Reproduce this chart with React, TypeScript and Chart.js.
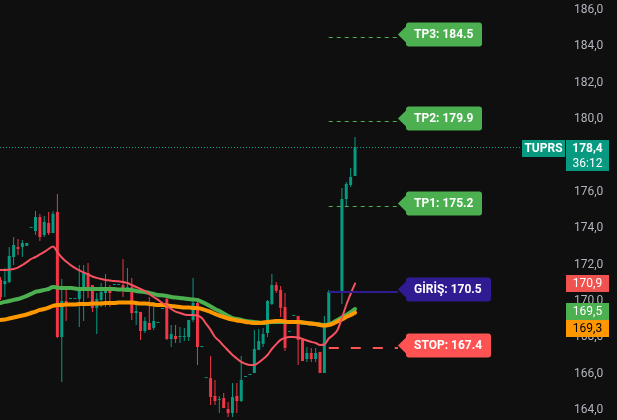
import React, { useEffect, useRef } from 'react';
import { Chart, registerables } from 'chart.js';

Chart.register(...registerables);

const SYMBOL = 'TUPRS';
const COUNTDOWN = '36:12';

const OPEN = [
  171.10, 170.87, 170.98, 172.36, 172.91, 172.91, 172.97, 173.96, 173.79, 174.56,
  173.57, 174.23, 173.68, 174.84, 167.96, 169.94, 170.05, 170.05, 170.05, 170.66,
  171.48, 170.82, 169.56, 170.00, 170.38, 170.55, 170.82, 170.82, 170.82, 170.55,
  170.71, 169.28, 169.34, 168.29, 168.73, 168.46, 168.73, 169.50, 170.05, 167.85,
  168.02, 167.96, 167.96, 167.96, 168.90, 169.83, 167.41, 165.70, 165.70, 164.72,
  164.50, 164.60, 164.00, 163.78, 164.72, 164.44, 165.76, 165.87, 165.98, 167.25,
  167.58, 168.18, 169.78, 170.82, 170.55, 169.61, 168.24, 169.12, 169.12, 167.80,
  166.75, 167.08, 166.75, 167.14, 165.98, 168.62, 170.44, 170.44, 170.44, 175.55,
  176.32, 176.82,
];
const HIGH = [
  171.26, 171.75, 172.91, 173.46, 173.35, 173.30, 173.13, 173.96, 174.89, 174.73,
  174.62, 174.84, 174.89, 175.83, 171.15, 170.71, 170.05, 170.05, 171.92, 171.92,
  172.03, 170.82, 170.38, 170.93, 171.43, 170.82, 170.82, 170.82, 172.25, 171.75,
  171.21, 169.89, 169.34, 169.06, 170.16, 169.89, 168.73, 169.50, 170.16, 168.62,
  168.62, 168.51, 168.46, 168.90, 171.21, 170.11, 167.41, 165.70, 166.92, 165.60,
  164.72, 164.88, 164.39, 165.43, 165.43, 166.92, 165.76, 165.87, 168.35, 168.40,
  168.46, 170.00, 171.43, 170.98, 170.77, 170.38, 168.24, 169.12, 169.12, 167.80,
  167.41, 167.36, 167.36, 167.14, 169.12, 170.55, 170.44, 170.44, 176.16, 176.49,
  177.26, 178.96,
];
const LOW = [
  170.00, 170.16, 170.93, 171.92, 172.47, 172.36, 172.97, 173.96, 173.57, 173.24,
  173.46, 173.57, 173.68, 167.90, 165.49, 168.84, 170.05, 170.05, 168.51, 168.84,
  170.11, 169.34, 168.13, 169.61, 169.61, 169.61, 170.82, 170.82, 170.16, 170.44,
  168.90, 168.62, 167.79, 168.18, 168.35, 168.35, 168.73, 169.50, 167.79, 167.41,
  167.63, 167.63, 167.74, 167.74, 168.79, 166.42, 167.41, 165.70, 164.22, 164.22,
  163.78, 164.05, 163.56, 163.56, 163.78, 164.39, 165.76, 165.87, 165.98, 167.25,
  167.41, 167.96, 169.72, 170.38, 169.06, 167.19, 168.24, 169.12, 166.42, 166.64,
  166.58, 166.58, 166.58, 165.98, 165.98, 168.62, 170.44, 170.44, 169.78, 175.17,
  176.21, 176.82,
];
const CLOSE = [
  170.16, 171.04, 172.42, 173.02, 172.80, 173.13, 173.13, 173.96, 174.56, 173.46,
  174.29, 173.68, 174.73, 167.96, 169.94, 169.78, 170.05, 170.05, 170.71, 171.54,
  170.71, 169.56, 170.05, 170.44, 170.66, 170.38, 170.82, 170.82, 170.55, 170.71,
  169.28, 169.39, 168.29, 168.84, 168.35, 168.84, 168.73, 169.50, 167.85, 168.13,
  167.85, 167.96, 167.96, 168.90, 169.83, 167.41, 167.41, 165.70, 164.66, 164.44,
  164.50, 164.05, 163.78, 164.66, 164.44, 165.60, 165.76, 165.87, 167.30, 167.74,
  168.13, 169.94, 170.82, 170.50, 169.56, 167.36, 168.24, 169.12, 167.80, 166.64,
  167.08, 166.75, 167.08, 165.98, 168.62, 170.44, 170.44, 170.44, 175.55, 176.38,
  176.76, 178.40,
];

// red (fast) moving average
const MA_FAST = [
  171.65, 171.65, 171.67, 171.70, 171.78, 171.92, 172.08, 172.25, 172.36, 172.50,
  172.64, 172.80, 172.94, 172.64, 172.33, 172.11, 171.92, 171.76, 171.62, 171.51,
  171.40, 171.29, 171.21, 171.15, 171.10, 171.07, 171.04, 171.02, 170.99, 170.93,
  170.82, 170.71, 170.60, 170.49, 170.33, 170.16, 170.00, 169.83, 169.69, 169.50,
  169.36, 169.28, 169.20, 169.17, 169.17, 169.14, 169.00, 168.68, 168.35, 167.96,
  167.74, 167.47, 167.22, 166.97, 166.78, 166.59, 166.48, 166.42, 166.42, 166.56,
  166.75, 166.97, 167.30, 167.57, 167.80, 167.91, 167.96, 167.96, 167.93, 167.85,
  167.77, 167.69, 167.63, 167.52, 167.55, 167.88, 168.07, 168.35, 169.00, 169.72,
  170.33, 170.90,
];
// green (mid) moving average
const MA_MID = [
  169.83, 169.89, 169.94, 170.00, 170.05, 170.13, 170.22, 170.33, 170.44, 170.49,
  170.55, 170.60, 170.71, 170.68, 170.66, 170.66, 170.66, 170.63, 170.60, 170.60,
  170.60, 170.60, 170.60, 170.60, 170.60, 170.60, 170.60, 170.57, 170.57, 170.55,
  170.55, 170.49, 170.46, 170.44, 170.38, 170.33, 170.27, 170.25, 170.22, 170.16,
  170.13, 170.11, 170.08, 170.05, 170.02, 170.00, 169.89, 169.78, 169.64, 169.50,
  169.39, 169.25, 169.12, 169.00, 168.95, 168.90, 168.84, 168.81, 168.79, 168.76,
  168.73, 168.76, 168.79, 168.79, 168.79, 168.79, 168.79, 168.79, 168.79, 168.76,
  168.73, 168.70, 168.68, 168.65, 168.62, 168.65, 168.76, 168.90, 169.03, 169.17,
  169.33, 169.50,
];
// orange (slow) moving average
const MA_SLOW = [
  168.90, 168.92, 168.98, 169.03, 169.09, 169.14, 169.20, 169.28, 169.36, 169.45,
  169.50, 169.58, 169.67, 169.72, 169.72, 169.75, 169.75, 169.75, 169.78, 169.78,
  169.78, 169.80, 169.80, 169.80, 169.83, 169.83, 169.83, 169.86, 169.86, 169.86,
  169.86, 169.83, 169.80, 169.80, 169.78, 169.75, 169.72, 169.72, 169.69, 169.67,
  169.64, 169.61, 169.58, 169.58, 169.56, 169.56, 169.50, 169.42, 169.34, 169.23,
  169.14, 169.06, 168.98, 168.92, 168.87, 168.84, 168.79, 168.76, 168.73, 168.73,
  168.76, 168.79, 168.81, 168.84, 168.84, 168.81, 168.79, 168.79, 168.79, 168.76,
  168.73, 168.70, 168.68, 168.62, 168.59, 168.62, 168.70, 168.81, 168.92, 169.06,
  169.17, 169.30,
];

const LEVEL_LABELS = ['TP3', 'TP2', 'TP1', 'GİRİŞ', 'STOP'];
const LEVEL_VALUES = [184.5, 179.9, 175.2, 170.5, 167.4];
const SIGNAL_INDEX = 75;
const Y_TICKS = [164, 166, 168, 170, 172, 174, 176, 178, 180, 182, 184, 186];

const BG = '#0f0f0f';
const UP = '#089981';
const DOWN = '#f23645';
const MA_RED = '#f7525f';
const MA_GREEN = '#4caf50';
const MA_ORANGE = '#ff9800';
const FONT = 'Roboto, "Noto Sans", sans-serif';

const LEVEL_STYLE = [
  { color: '#4caf50', dash: [4, 4], width: 1 },
  { color: '#4caf50', dash: [4, 4], width: 1 },
  { color: '#4caf50', dash: [4, 4], width: 1 },
  { color: '#311b92', dash: [], width: 2 },
  { color: '#ff5252', dash: [10, 12], width: 2 },
];

const fmt = (v: number) => v.toFixed(1).replace('.', ',');

function roundRect(ctx: CanvasRenderingContext2D, x: number, y: number, w: number, h: number, r: number) {
  ctx.beginPath();
  ctx.moveTo(x + r, y);
  ctx.lineTo(x + w - r, y);
  ctx.quadraticCurveTo(x + w, y, x + w, y + r);
  ctx.lineTo(x + w, y + h - r);
  ctx.quadraticCurveTo(x + w, y + h, x + w - r, y + h);
  ctx.lineTo(x + r, y + h);
  ctx.quadraticCurveTo(x, y + h, x, y + h - r);
  ctx.lineTo(x, y + r);
  ctx.quadraticCurveTo(x, y, x + r, y);
  ctx.closePath();
}

const levelsPlugin = {
  id: 'levels',
  afterDatasetsDraw(chart: any) {
    const { ctx, scales, chartArea } = chart;
    const xS = scales.x;
    const yS = scales.y;
    const last = CLOSE.length - 1;
    ctx.save();
    // last price dotted line
    const py = Math.round(yS.getPixelForValue(CLOSE[last])) + 0.5;
    ctx.strokeStyle = '#12a58d';
    ctx.lineWidth = 1;
    ctx.setLineDash([1, 2]);
    ctx.beginPath();
    ctx.moveTo(chartArea.left, py);
    ctx.lineTo(chartArea.right - 44, py);
    ctx.stroke();

    const x0 = xS.getPixelForValue(SIGNAL_INDEX);
    const x1 = xS.getPixelForValue(SIGNAL_INDEX + 15.8);
    LEVEL_VALUES.forEach((v, i) => {
      const st = LEVEL_STYLE[i];
      const ly = Math.round(yS.getPixelForValue(v)) + 1 + (st.width === 1 ? 0.5 : 0);
      ctx.strokeStyle = st.color;
      ctx.lineWidth = st.width;
      ctx.setLineDash(st.dash);
      ctx.beginPath();
      ctx.moveTo(x0, ly);
      ctx.lineTo(x1, ly);
      ctx.stroke();
      ctx.setLineDash([]);
      // tag
      const y = Math.round(yS.getPixelForValue(v)) - 1.5;
      const text = `${LEVEL_LABELS[i]}: ${v.toFixed(1)}`;
      ctx.font = `bold 12px ${FONT}`;
      const w = Math.round(ctx.measureText(text).width) + 17;
      const bx = Math.round(x1) + 8;
      const h = 24;
      ctx.fillStyle = st.color;
      roundRect(ctx, bx, y - h / 2, w, h, 3);
      ctx.fill();
      ctx.beginPath();
      ctx.moveTo(x1, y);
      ctx.lineTo(bx + 1, y - 9);
      ctx.lineTo(bx + 1, y + 9);
      ctx.closePath();
      ctx.fill();
      ctx.fillStyle = '#ffffff';
      ctx.textBaseline = 'middle';
      ctx.textAlign = 'left';
      ctx.fillText(text, bx + 8, y + 0.5);
    });
    ctx.restore();
  },
  afterDraw(chart: any) {
    const { ctx, scales, chartArea } = chart;
    const yS = scales.y;
    const last = CLOSE.length - 1;
    const bx = chartArea.right + 1;
    const bw = 43;
    ctx.save();
    ctx.textBaseline = 'middle';
    ctx.textAlign = 'center';
    // symbol tag + price tag
    const py = yS.getPixelForValue(CLOSE[last]);
    ctx.fillStyle = UP;
    ctx.fillRect(chartArea.right - 43, Math.round(py - 7.5), 43, 17);
    ctx.fillRect(bx, Math.round(py - 7.5), bw, 31);
    ctx.fillStyle = '#ffffff';
    ctx.font = `bold 12px ${FONT}`;
    ctx.fillText(SYMBOL, chartArea.right - 21.5, Math.round(py) + 1.5);
    ctx.fillText(fmt(CLOSE[last]), bx + bw / 2, Math.round(py) + 1.5);
    ctx.font = `12px ${FONT}`;
    ctx.fillText(COUNTDOWN, bx + bw / 2, Math.round(py) + 16.5);

    // moving average tags
    const tags = [
      { v: MA_FAST[last], fill: '#ef5350', text: '#ffffff' },
      { v: MA_MID[last], fill: MA_GREEN, text: '#ffffff' },
      { v: MA_SLOW[last], fill: MA_ORANGE, text: '#000000' },
    ].map((t) => ({ ...t, y: yS.getPixelForValue(t.v) }))
      .sort((a, b) => a.y - b.y);
    let prevBottom = -Infinity;
    tags.forEach((t, k) => {
      let top = Math.round(t.y - 8.5);
      if (top < prevBottom) top = prevBottom;
      if (k === 1) top = Math.max(top, Math.round(t.y - 6));
      prevBottom = top + 17;
      ctx.fillStyle = t.fill;
      ctx.fillRect(bx, top, bw, 17);
      ctx.fillStyle = t.text;
      ctx.font = `12px ${FONT}`;
      ctx.fillText(fmt(t.v), bx + bw / 2, top + 9);
    });
    ctx.restore();
  },
};

export default function App() {
  const ref = useRef<HTMLCanvasElement>(null);

  useEffect(() => {
    const canvas = ref.current;
    if (!canvas) return;
    const idx = OPEN.map((_, i) => i);
    const colors = idx.map((i) => (CLOSE[i] >= OPEN[i] ? UP : DOWN));
    const line = (arr: number[], color: string, width: number, order: number) => ({
      type: 'line' as const,
      data: idx.map((i) => ({ x: i, y: arr[i] })),
      borderColor: color,
      borderWidth: width,
      pointRadius: 0,
      cubicInterpolationMode: 'monotone' as const,
      borderCapStyle: 'round' as const,
      borderJoinStyle: 'round' as const,
      fill: false,
      order,
    });
    const chart = new Chart(canvas, {
      type: 'bar',
      data: {
        datasets: [
          line(MA_FAST, MA_RED, 2, 1),
          line(MA_SLOW, MA_ORANGE, 4, 2),
          line(MA_MID, MA_GREEN, 4, 3),
          {
            type: 'bar',
            data: idx.map((i) => ({ x: i, y: [OPEN[i], CLOSE[i]] })),
            backgroundColor: colors,
            grouped: false,
            maxBarThickness: 3,
            minBarLength: 1,
            borderWidth: 0,
            order: 4,
          } as any,
          {
            type: 'bar',
            data: idx.map((i) => ({ x: i, y: [LOW[i], HIGH[i]] })),
            backgroundColor: colors,
            grouped: false,
            maxBarThickness: 1,
            borderWidth: 0,
            order: 5,
          } as any,
        ],
      },
      options: {
        responsive: false,
        maintainAspectRatio: false,
        animation: false,
        devicePixelRatio: 1,
        events: [],
        layout: { padding: 0 },
        plugins: { legend: { display: false }, tooltip: { enabled: false } },
        scales: {
          x: {
            type: 'linear',
            display: false,
            offset: false,
            min: -0.11,
            max: 128.97,
          },
          y: {
            type: 'linear',
            position: 'right',
            min: 163.395,
            max: 186.495,
            beginAtZero: false,
            grid: { display: false, drawTicks: false },
            border: { display: false },
            afterFit: (s: any) => {
              s.width = 52;
              s.paddingTop = 0;
              s.paddingBottom = 0;
            },
            afterBuildTicks: (s: any) => { s.ticks = Y_TICKS.map((v) => ({ value: v })); },
            ticks: {
              color: '#b2b5be',
              font: { family: FONT, size: 12 },
              padding: 9,
              labelOffset: 1,
              autoSkip: false,
              callback: (v: any) => fmt(Number(v)),
            },
          },
        },
      } as any,
      plugins: [levelsPlugin],
    });
    return () => chart.destroy();
  }, []);

  return (
    <div style={{ position: 'fixed', left: 0, top: 0, width: 617, height: 420, background: BG }}>
      <canvas ref={ref} width={617} height={420} style={{ display: 'block', width: 617, height: 420 }} />
    </div>
  );
}
